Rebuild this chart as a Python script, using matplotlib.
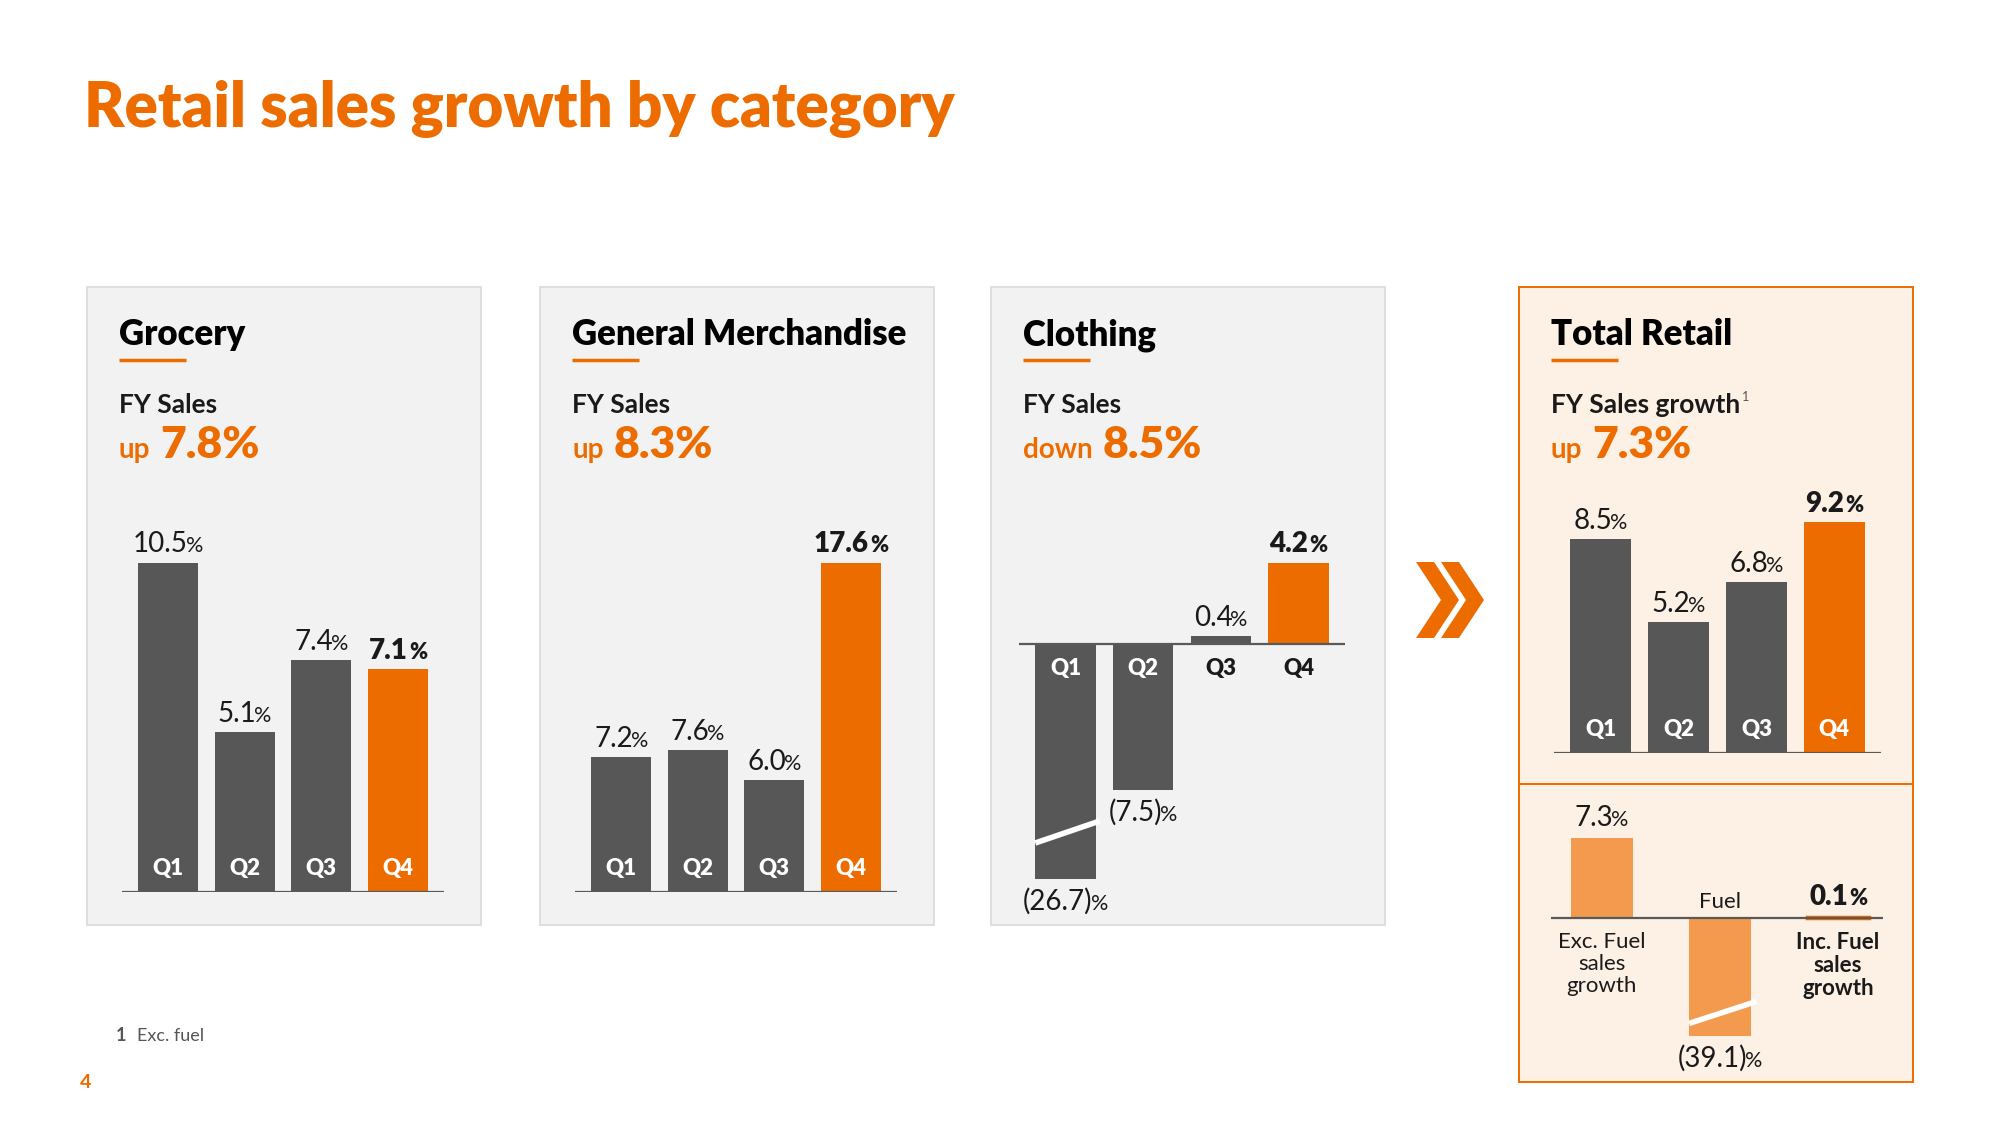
""" Retail sales growth by category """

import numpy as np
import matplotlib.pyplot as plt
from matplotlib.patches import Rectangle, Polygon

W, H = 2000, 1125
ORANGE = '#EC6C00'
LIGHT_ORANGE = '#F39A4F'
GREY = '#575757'
TEXT = '#1A1A1A'

# Données
quarters = ['Q1', 'Q2', 'Q3', 'Q4']
grocery = [10.5, 5.1, 7.4, 7.1]
general_merch = [7.2, 7.6, 6.0, 17.6]
clothing = [-26.7, -7.5, 0.4, 4.2]
total_retail = [8.5, 5.2, 6.8, 9.2]
fuel_labels = ['Exc. Fuel\nsales\ngrowth', 'Fuel', 'Inc. Fuel\nsales\ngrowth']
fuel_values = [7.3, -39.1, 0.1]
panel_titles = ['Grocery', 'General Merchandise', 'Clothing', 'Total Retail']
fy_labels = ['FY Sales', 'FY Sales', 'FY Sales', 'FY Sales growth']
fy_change = [7.8, 8.3, -8.5, 7.3]

plt.rcParams['font.family'] = ['Lato', 'DejaVu Sans']

fig = plt.figure(figsize=(20, 11.25), dpi=100)
# fond (panneaux) et calque de texte au-dessus des barres
bg = fig.add_axes([0, 0, 1, 1], zorder=0)
fg = fig.add_axes([0, 0, 1, 1], zorder=10)
for a in (bg, fg):
    a.set_xlim(0, W)
    a.set_ylim(H, 0)
    a.axis('off')
fg.patch.set_alpha(0)
renderer = fig.canvas.get_renderer()


def px_axes(x0, x1, y_top, y_bot):
    ax = fig.add_axes([x0 / W, 1 - y_bot / H, (x1 - x0) / W, (y_bot - y_top) / H], zorder=5)
    ax.patch.set_alpha(0)
    ax.axis('off')
    return ax


def to_px(ax, x, y):
    X, Y = ax.transData.transform((x, y))
    return X, H - Y


def fmt(v):
    return f'{v:.1f}' if v >= 0 else f'({-v:.1f})'


def width_of(t):
    return t.get_window_extent(renderer).width


def pct_label(xc, y, v, bold=False, size=20):
    w = 'heavy' if bold else 'normal'
    t1 = fg.text(0, y, fmt(v), fontsize=size, fontweight=w, color=TEXT, va='baseline')
    t2 = fg.text(0, y, '%', fontsize=size * 0.78, fontweight=w, color=TEXT, va='baseline')
    w1, w2 = width_of(t1), width_of(t2)
    gap = 1 if bold else -2
    x0 = xc - (w1 + w2 + gap) / 2
    t1.set_x(x0)
    t2.set_x(x0 + w1 + gap)


def break_mark(ax, i, lo, px_per, bw):
    yb = lo * 0.8
    d = 11 / px_per
    ax.plot([i - bw / 2, i + bw / 2 + 0.05], [yb - d, yb + d], color='white', lw=4,
            clip_on=False, solid_capstyle='butt', zorder=5)


def panel_header(left, title, fy_label, change, sup=False):
    x = left + 32
    fg.text(x, 345, title, fontsize=25, fontweight='heavy', color='black', va='baseline')
    fg.plot([x, x + 67], [360, 360], color=ORANGE, lw=2.5, solid_capstyle='butt')
    t = fg.text(x, 413, fy_label, fontsize=19, fontweight='bold', color=TEXT, va='baseline')
    if sup:
        fg.text(x + width_of(t) + 2, 401, '1', fontsize=9, color='#555555', va='baseline')
    word = 'up' if change >= 0 else 'down'
    t = fg.text(x, 458, word, fontsize=20, fontweight='bold', color=ORANGE, va='baseline')
    fg.text(x + width_of(t) + 10, 458, f'{abs(change):.1f}%', fontsize=32,
            fontweight='heavy', color=ORANGE, va='baseline')


def quarter_chart(x0, x1, top_px, base_px, bot_px, values, below_labels=False):
    hi = max(values)
    lo = -hi * (bot_px - base_px) / (base_px - top_px)
    px_per = (base_px - top_px) / hi
    ax = px_axes(x0, x1, top_px, bot_px)
    ax.set_xlim(-0.6, 3.6)
    ax.set_ylim(lo, hi)
    x = np.arange(len(values))
    ax.bar(x, values, width=0.78, color=[GREY] * 3 + [ORANGE])
    ax.axhline(0, color='#595959', lw=1.6)
    for i, v in enumerate(values):
        cx, ty = to_px(ax, i, max(v, lo))
        if v >= 0:
            pct_label(cx, ty - 10, v, bold=(i == 3))
        else:
            pct_label(cx, ty + 31, v)
        if below_labels:
            qy, qc = base_px + 31, ('white' if v < 0 else TEXT)
        else:
            qy, qc = base_px - 17, 'white'
        fg.text(cx, qy, quarters[i], ha='center', va='baseline', fontsize=16,
                fontweight='heavy', color=qc)
        if v < lo:
            break_mark(ax, i, lo, px_per, 0.78)


# Titre
fg.text(84, 127, 'Retail sales growth by category', fontsize=44.5, fontweight='heavy',
        color=ORANGE, va='baseline')

# Panneaux gris
for left in [87, 540, 991]:
    bg.add_patch(Rectangle((left, 287), 394, 638, facecolor='#F2F2F2',
                           edgecolor='#D9D9D9', lw=1.2))
# Panneau Total Retail
bg.add_patch(Rectangle((1519, 287), 394, 795, facecolor='#FDF0E5', edgecolor=ORANGE, lw=1.4))
bg.plot([1519, 1913], [784, 784], color=ORANGE, lw=1.4)

for left, title, lab, ch in zip([87, 540, 991, 1519], panel_titles, fy_labels, fy_change):
    panel_header(left, title, lab, ch, sup=(title == 'Total Retail'))

quarter_chart(122, 444, 562.5, 892, 892, grocery)
quarter_chart(575, 897, 562.5, 892, 892, general_merch)
quarter_chart(1019, 1345, 562.5, 644, 879, clothing, below_labels=True)
quarter_chart(1554, 1881, 521.7, 752.6, 752.6, total_retail)

# Carburant
base_f, top_f, bot_f = 918, 838, 1036
hi = max(fuel_values)
lo = -hi * (bot_f - base_f) / (base_f - top_f)
px_per = (base_f - top_f) / hi
axf = px_axes(1551, 1883, top_f, bot_f)
axf.set_xlim(-0.43, 2.38)
axf.set_ylim(lo, hi)
xf = np.arange(len(fuel_values))
axf.bar(xf, fuel_values, width=0.52, color=[LIGHT_ORANGE, LIGHT_ORANGE, ORANGE],
        edgecolor=['none', 'none', ORANGE], lw=2.5)
axf.axhline(0, color='#595959', lw=1.6)
for i, v in enumerate(fuel_values):
    cx, ty = to_px(axf, i, max(v, lo))
    last = (i == len(fuel_values) - 1)
    if v >= 0:
        pct_label(cx, ty - 12, v, bold=last)
        fg.text(cx, base_f + 14, fuel_labels[i], ha='center', va='top', fontsize=16,
                fontweight='bold' if last else 'normal', color=TEXT, linespacing=1.12)
    else:
        pct_label(cx, ty + 31, v)
        fg.text(cx, base_f - 10, fuel_labels[i], ha='center', va='baseline', fontsize=16,
                color=TEXT)
    if v < lo:
        break_mark(axf, i, lo, px_per, 0.52)

# Chevrons
for dx in (0, 25):
    pts = [(1416 + dx, 562), (1434 + dx, 562), (1459 + dx, 600),
           (1434 + dx, 638), (1416 + dx, 638), (1441 + dx, 600)]
    bg.add_patch(Polygon(pts, closed=True, facecolor=ORANGE, edgecolor='none'))

# Notes
fg.text(116, 1041, '1', fontsize=13, fontweight='bold', color='#555555', va='baseline')
fg.text(137, 1041, 'Exc. fuel', fontsize=13, color='#555555', va='baseline')
fg.text(80, 1088, '4', fontsize=14, fontweight='bold', color=ORANGE, va='baseline')

fig.savefig('out.png', dpi=100)
